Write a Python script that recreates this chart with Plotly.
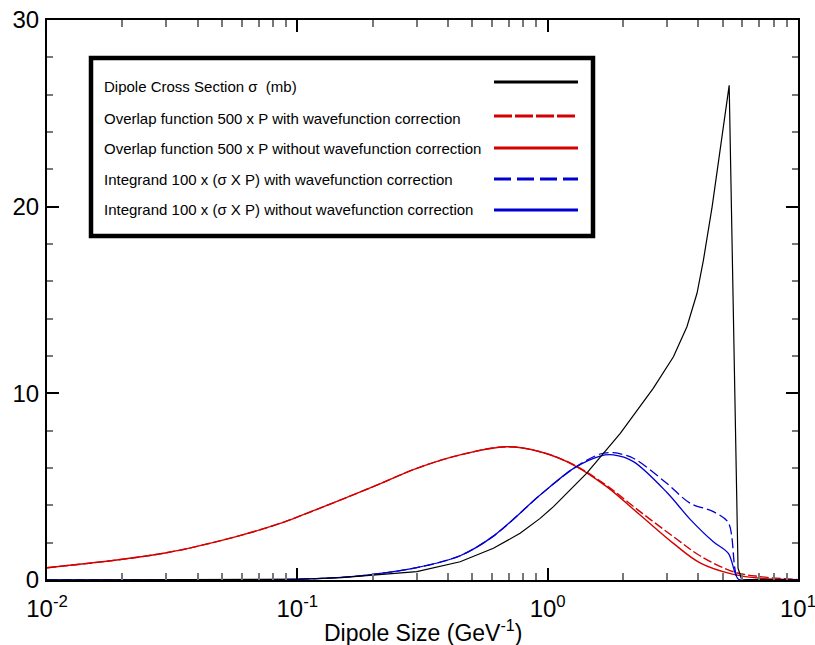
import plotly.graph_objects as go

# Dipole size r (GeV^-1) and curve values for each series
r_sigma = [0.01, 0.05, 0.1, 0.15, 0.2, 0.3, 0.447, 0.607, 0.776, 0.933, 1.055, 1.43, 1.95,
           2.64, 3.18, 3.60, 3.95, 4.19, 4.54, 5.31, 5.76, 5.95, 10.0]
sigma = [0.0, 0.01, 0.04, 0.13, 0.27, 0.45, 0.98, 1.70, 2.50, 3.30, 3.93, 5.71, 7.86,
         10.27, 11.96, 13.57, 15.36, 17.14, 20.0, 26.5, 0.63, 0.04, 0.0]

r_overlap = [0.01, 0.019, 0.030, 0.0397, 0.0609, 0.0853, 0.1026, 0.201, 0.300, 0.447,
             0.687, 0.933, 1.27, 1.72, 2.34, 3.18, 4.06, 5.52, 7.06, 10.0]
overlap_nocorr = [0.66, 1.07, 1.46, 1.80, 2.43, 3.03, 3.43, 5.00, 5.98, 6.70,
                  7.14, 6.87, 6.16, 5.00, 3.48, 1.96, 0.92, 0.30, 0.09, 0.01]
overlap_corr = [0.66, 1.07, 1.46, 1.80, 2.43, 3.03, 3.43, 5.00, 5.98, 6.70,
                7.14, 6.87, 6.18, 5.06, 3.66, 2.32, 1.30, 0.44, 0.18, 0.02]

r_integrand = [0.01, 0.05, 0.1, 0.15, 0.2, 0.3, 0.447, 0.607, 0.933, 1.27, 1.62,
               1.83, 2.20, 2.99, 3.71, 4.59, 5.27, 5.78, 6.5, 10.0]
integrand_nocorr = [0.0, 0.01, 0.04, 0.14, 0.30, 0.66, 1.30, 2.35, 4.55, 5.98, 6.64,
                    6.70, 6.34, 4.70, 3.25, 2.05, 1.43, 0.04, 0.0, 0.0]
integrand_corr = [0.0, 0.01, 0.04, 0.14, 0.30, 0.66, 1.30, 2.35, 4.55, 5.98, 6.75,
                  6.82, 6.52, 5.18, 4.11, 3.66, 3.07, 0.04, 0.0, 0.0]

legend_labels = [
    "Dipole Cross Section σ  (mb)",
    "Overlap function 500 x P with wavefunction correction",
    "Overlap function 500 x P without wavefunction correction",
    "Integrand 100 x (σ X P) with wavefunction correction",
    "Integrand 100 x (σ X P) without wavefunction correction",
]

x_tickvals = [0.01, 0.1, 1, 10]
x_ticktext = ["10<sup>-2</sup>", "10<sup>-1</sup>", "10<sup>0</sup>", "10<sup>1</sup>"]
y_tickvals = [0, 10, 20, 30]

RED = "rgb(210,0,0)"
BLUE = "rgb(0,0,210)"
BLACK = "black"

fig = go.Figure()
fig.add_trace(go.Scatter(x=r_overlap, y=overlap_nocorr, mode="lines",
                         line=dict(color=RED, width=1.4, shape="spline", smoothing=1.0)))
fig.add_trace(go.Scatter(x=r_overlap, y=overlap_corr, mode="lines",
                         line=dict(color=RED, width=1.4, dash="9px,3px", shape="spline", smoothing=1.0)))
fig.add_trace(go.Scatter(x=r_integrand, y=integrand_nocorr, mode="lines",
                         line=dict(color=BLUE, width=1.3, shape="spline", smoothing=0.9)))
fig.add_trace(go.Scatter(x=r_integrand, y=integrand_corr, mode="lines",
                         line=dict(color=BLUE, width=1.3, dash="10px,4px", shape="spline", smoothing=0.9)))
fig.add_trace(go.Scatter(x=r_sigma, y=sigma, mode="lines",
                         line=dict(color=BLACK, width=1.2)))

# Hand-built legend box: thick frame, labels on the left, line samples on the right
box = dict(x0=91, x1=593, y0=58, y1=236)
W, H = 815, 645
L, R, T, B = 47, 17, 20, 65
pw, ph = W - L - R, H - T - B


def px_x(p):
    return (p - L) / pw


def px_y(p):
    return (H - B - p) / ph


shapes = [dict(type="rect", xref="paper", yref="paper",
               x0=px_x(box["x0"]), x1=px_x(box["x1"]), y0=px_y(box["y1"]), y1=px_y(box["y0"]),
               line=dict(color="black", width=4.5), fillcolor="white", layer="above")]
row_text_y = [86, 118, 148, 179, 209]
row_line_y = [82, 116, 148, 179, 210]
row_style = [(BLACK, "solid"), (RED, "18px,3px"), (RED, "solid"), (BLUE, "17px,6px"), (BLUE, "solid")]
annotations = []
for label, ty, ly, (col, dash) in zip(legend_labels, row_text_y, row_line_y, row_style):
    annotations.append(dict(xref="paper", yref="paper", x=px_x(102), y=px_y(ty),
                            xanchor="left", yanchor="middle", showarrow=False, text=label,
                            font=dict(family="Liberation Sans, Arial", size=15, color="black")))
    shapes.append(dict(type="line", xref="paper", yref="paper",
                       x0=px_x(494), x1=px_x(578), y0=px_y(ly), y1=px_y(ly),
                       line=dict(color=col, width=3, dash=dash), layer="above"))

annotations.append(dict(xref="paper", yref="paper", x=0.5, y=px_y(631),
                        xanchor="center", yanchor="middle", showarrow=False,
                        text="Dipole Size (GeV<sup>-1</sup>)",
                        font=dict(family="Liberation Sans, Arial", size=23, color="black")))

fig.update_layout(
    width=W, height=H,
    margin=dict(l=L, r=R, t=T, b=B, pad=0),
    paper_bgcolor="white", plot_bgcolor="white",
    showlegend=False,
    font=dict(family="Liberation Sans, Arial", size=24, color="black"),
    shapes=shapes, annotations=annotations,
    xaxis=dict(type="log", range=[-2, 1], tickvals=x_tickvals, ticktext=x_ticktext,
               ticks="inside", ticklen=12, tickwidth=1.5, tickcolor="black",
               showline=True, linecolor="black", linewidth=2, mirror="ticks",
               showgrid=False, zeroline=False, automargin=False,
               ticklabeloverflow="allow", ticklabelstandoff=6,
               minor=dict(ticks="inside", ticklen=7, tickwidth=1.5, tickcolor="#777",
                          dtick="D1", showgrid=False),
               tickfont=dict(size=24)),
    yaxis=dict(range=[0, 30], tickvals=y_tickvals,
               ticks="inside", ticklen=12, tickwidth=1.5, tickcolor="black",
               showline=True, linecolor="black", linewidth=2, mirror="ticks",
               showgrid=False, zeroline=False, automargin=False,
               ticklabeloverflow="allow",
               minor=dict(ticks="inside", ticklen=6, tickwidth=1.5, tickcolor="#777",
                          dtick=2, showgrid=False),
               tickfont=dict(size=24), ticklabelstandoff=1),
)

fig.write_html("out.html")
